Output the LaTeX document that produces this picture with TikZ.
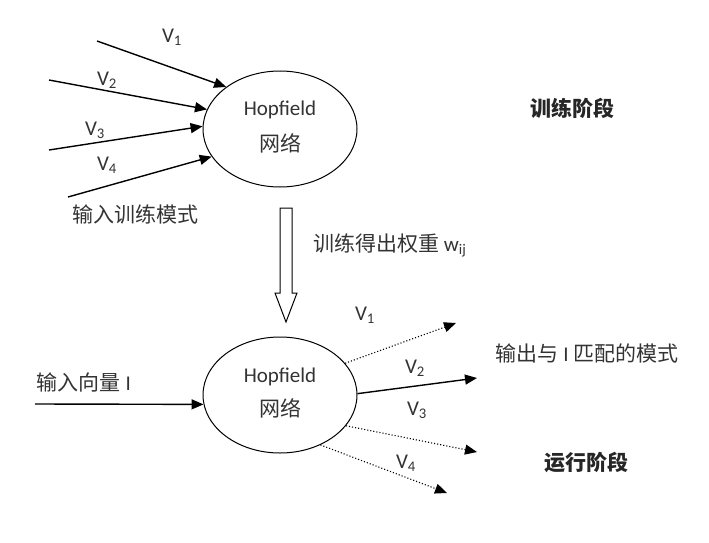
\documentclass[tikz,border=0pt]{standalone}
\usepackage{fontspec}
\setmainfont{Carlito}
\newfontfamily\cjk{Noto Sans CJK SC}
\usetikzlibrary{arrows.meta,shapes.geometric}
\begin{document}
\begin{tikzpicture}[x=1pt,y=-1pt,
  net/.style={draw,line width=1pt,ellipse,minimum width=154pt,minimum height=116pt,inner sep=0pt},
  txt/.style={inner sep=0pt,text=black!80,font=\fontsize{21}{25}\selectfont},
  boldtxt/.style={txt,text=black!85,font=\fontsize{21}{25}\selectfont\cjk\bfseries},
  solidarrow/.style={line width=1.4pt,-{Triangle[length=12pt,width=10pt]}},
  dotarrow/.style={line width=1.1pt,dotted,-{Triangle[length=12pt,width=10pt]}},
  hollow/.style={draw,line width=1pt,fill=white}
]
\useasboundingbox (0,0) rectangle (709,543);
% top network
\node[net] (e1) at (280,129) {};
\node[txt] (h1) at (280,110) {Hopfield};
\node[txt] (n1) at (280,143) {\cjk 网络};
\coordinate (s1) at (97,41);
\coordinate (s2) at (49,80);
\coordinate (s3) at (49,150);
\coordinate (s4) at (68,197);
\draw[solidarrow] (s1) -- (e1.142);
\draw[solidarrow] (s2) -- (e1.165);
\draw[solidarrow] (s3) -- (e1.178);
\draw[solidarrow] (s4) -- (e1.202);
\node[txt] (v1) at (172,37) {V\textsubscript{1}};
\node[txt] (v2) at (107,80) {V\textsubscript{2}};
\node[txt] (v3) at (95,130) {V\textsubscript{3}};
\node[txt] (v4) at (107,165) {V\textsubscript{4}};
\node[txt] (inp) at (135,214) {\cjk 输入训练模式};
\node[boldtxt] (train) at (572,108) {训练阶段};
% hollow arrow
\draw[hollow] (280,208) -- (292,208) -- (292,293) -- (297,293) -- (286,322) -- (275,293) -- (280,293) -- cycle;
\node[txt,anchor=west] (w) at (313,245) {{\cjk 训练得出权重} w\textsubscript{ij}};
% bottom network
\node[net] (e2) at (280,395) {};
\node[txt] (h2) at (280,377) {Hopfield};
\node[txt] (n2) at (280,408) {\cjk 网络};
\coordinate (in) at (35,404);
\draw[solidarrow] (in) -- (e2.187);
\node[txt] (inv) at (84,382) {{\cjk 输入向量} I};
\coordinate (t1) at (456,323);
\coordinate (t2) at (477,378);
\coordinate (t3) at (477,452);
\coordinate (t4) at (447,493);
\draw[dotarrow] (e2.26) -- (t1);
\draw[solidarrow] (e2.1.5) -- (t2);
\draw[dotarrow] (e2.335) -- (t3);
\draw[dotarrow] (e2.309) -- (t4);
\node[txt] (u1) at (365,315) {V\textsubscript{1}};
\node[txt] (u2) at (415,368) {V\textsubscript{2}};
\node[txt] (u3) at (417,410) {V\textsubscript{3}};
\node[txt] (u4) at (406,463) {V\textsubscript{4}};
\node[txt] (out) at (587,353) {{\cjk 输出与} I {\cjk 匹配的模式}};
\node[boldtxt] (run) at (586,463) {运行阶段};
\end{tikzpicture}
\end{document}
